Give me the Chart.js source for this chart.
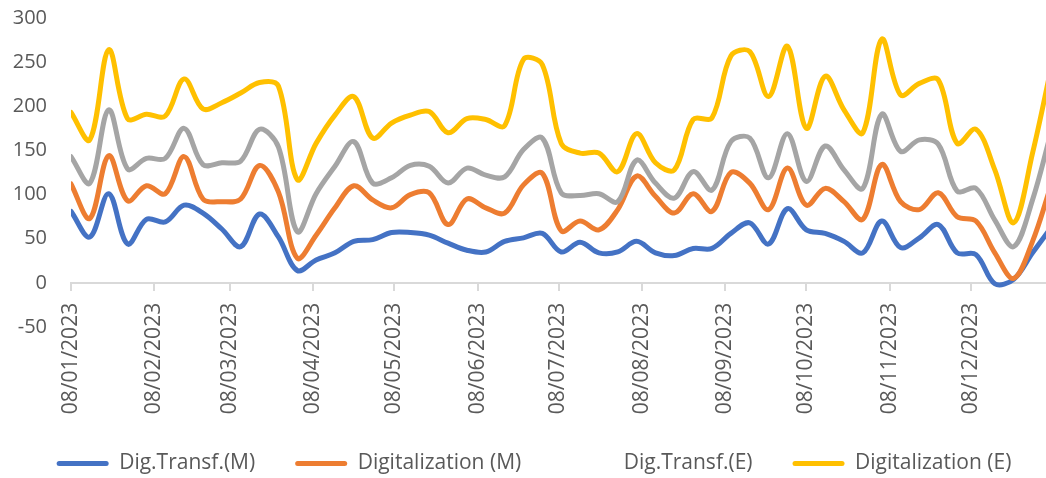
<!DOCTYPE html>
<html>
<head>
<meta charset="utf-8">
<script src="https://cdn.jsdelivr.net/npm/chart.js@4.4.1/dist/chart.umd.min.js"></script>
<style>
  html, body { margin: 0; padding: 0; background: #fff; overflow: hidden; }
  #wrap { width: 1046px; height: 478px; position: relative; }
</style>
</head>
<body>
<div id="wrap"><canvas id="myChart"></canvas></div>
<script>
// weekly values, first week = 08/01/2023
var digTransfM = [81, 52, 101, 44, 72, 69, 88, 79, 61, 41, 78, 52, 14, 26, 34, 47, 49, 57, 57, 54,
  45, 37, 35, 47, 51, 56, 35, 46, 34, 35, 47, 34, 31, 39, 39, 56, 68, 44, 84, 60,
  56, 47, 34, 70, 40, 51, 66, 34, 32, -1, 4, 34, 63];
var digitalizationM = [112, 73, 144, 93, 110, 101, 143, 95, 92, 95, 133, 103, 28, 54, 85, 110, 94, 85, 100, 102,
  66, 95, 85, 79, 111, 124, 59, 70, 60, 83, 121, 98, 79, 101, 81, 125, 113, 83, 130, 88,
  107, 92, 72, 134, 92, 83, 102, 75, 70, 34, 5, 47, 112];
var digTransfE = [143, 113, 196, 129, 141, 141, 175, 134, 136, 138, 174, 154, 58, 101, 132, 160, 113, 119, 133, 132,
  113, 130, 122, 120, 151, 164, 102, 99, 101, 92, 139, 113, 96, 126, 105, 160, 164, 119, 169, 115,
  155, 128, 107, 191, 149, 162, 157, 104, 107, 71, 41, 94, 172];
var digitalizationE = [193, 162, 264, 186, 191, 189, 231, 197, 204, 215, 227, 223, 117, 158, 190, 211, 164, 181, 190, 194,
  170, 186, 185, 178, 253, 247, 158, 147, 147, 126, 169, 136, 128, 185, 187, 257, 262, 211, 268, 175,
  234, 196, 170, 276, 213, 226, 230, 158, 174, 128, 68, 147, 245];

// x axis labels (days counted from 08/01/2023)
var tickDays = [0, 31, 59, 90, 120, 151, 181, 212, 243, 273, 304, 334];
var tickLabels = ['08/01/2023', '08/02/2023', '08/03/2023', '08/04/2023', '08/05/2023', '08/06/2023',
  '08/07/2023', '08/08/2023', '08/09/2023', '08/10/2023', '08/11/2023', '08/12/2023'];

var textColor = '#595959';

function toPoints(values) {
  return values.map(function (v, i) { return { x: i * 7, y: v }; });
}

function makeSeries(label, values, color, order) {
  return {
    label: label,
    data: toPoints(values),
    borderColor: color,
    backgroundColor: color,
    borderWidth: 5,
    tension: 0.35,
    pointRadius: 0,
    fill: false,
    borderCapStyle: 'round',
    borderJoinStyle: 'round',
    order: order
  };
}

// small shift so the legend sits where Excel put it
var legendNudge = {
  id: 'legendNudge',
  afterLayout: function (chart) {
    var lg = chart.legend;
    lg.left += 11; lg.right += 11;
    lg.top += 6; lg.bottom += 6;
  }
};

var ctx = document.getElementById('myChart').getContext('2d');
var chart = new Chart(ctx, {
  type: 'line',
  data: {
    datasets: [
      makeSeries('Dig.Transf.(M)', digTransfM, '#4472C4', 4),
      makeSeries('Digitalization (M)', digitalizationM, '#ED7D31', 3),
      makeSeries('Dig.Transf.(E)', digTransfE, '#A5A5A5', 2),
      makeSeries('Digitalization (E)', digitalizationE, '#FFC000', 1)
    ]
  },
  options: {
    responsive: true,
    maintainAspectRatio: false,
    animation: false,
    layout: { padding: { top: 18, left: 0, right: 0, bottom: 0 } },
    scales: {
      x: {
        type: 'linear',
        position: { y: 0 },
        min: 0,
        max: 362,
        afterBuildTicks: function (scale) {
          scale.ticks = tickDays.map(function (d) { return { value: d }; });
        },
        ticks: {
          autoSkip: false,
          minRotation: 90,
          maxRotation: 90,
          padding: 13,
          color: textColor,
          font: { family: 'Open Sans', size: 21 },
          callback: function (value) {
            var i = tickDays.indexOf(value);
            return i >= 0 ? tickLabels[i] : '';
          }
        },
        grid: { display: true, drawOnChartArea: false, drawTicks: true, tickLength: 7, color: '#d9d9d9', lineWidth: 2 },
        border: { display: true, color: '#d9d9d9', width: 2 }
      },
      y: {
        min: -50,
        max: 300,
        afterFit: function (scale) {
          scale.width = 71;
          // the label gap should not push the plot down
          scale.paddingTop = 0;
          scale.paddingBottom = 0;
        },
        ticks: {
          stepSize: 50,
          padding: 24,
          color: textColor,
          font: { family: 'Open Sans', size: 20 }
        },
        grid: { display: false, drawTicks: false },
        border: { display: false }
      }
    },
    plugins: {
      tooltip: { enabled: false },
      legend: {
        position: 'bottom',
        title: { display: true, text: ' ', font: { size: 10, lineHeight: 1 }, padding: { top: 70, bottom: 0 } },
        labels: {
          boxWidth: 52,
          boxHeight: 5,
          padding: 40,
          useBorderRadius: true,
          borderRadius: 2.5,
          color: textColor,
          font: { family: 'Open Sans', size: 21 },
          generateLabels: function (chart) {
            var items = Chart.defaults.plugins.legend.labels.generateLabels(chart);
            // keep the series order, not the drawing order
            items.sort(function (a, b) { return a.datasetIndex - b.datasetIndex; });
            items.forEach(function (it) {
              it.lineWidth = 0;
              it.borderRadius = 2.5;
              // the gray series has no visible swatch in the legend
              if (it.datasetIndex === 2) {
                it.fillStyle = 'rgba(0,0,0,0)';
                it.strokeStyle = 'rgba(0,0,0,0)';
              }
            });
            return items;
          }
        }
      }
    }
  },
  plugins: [legendNudge]
});
</script>
</body>
</html>
